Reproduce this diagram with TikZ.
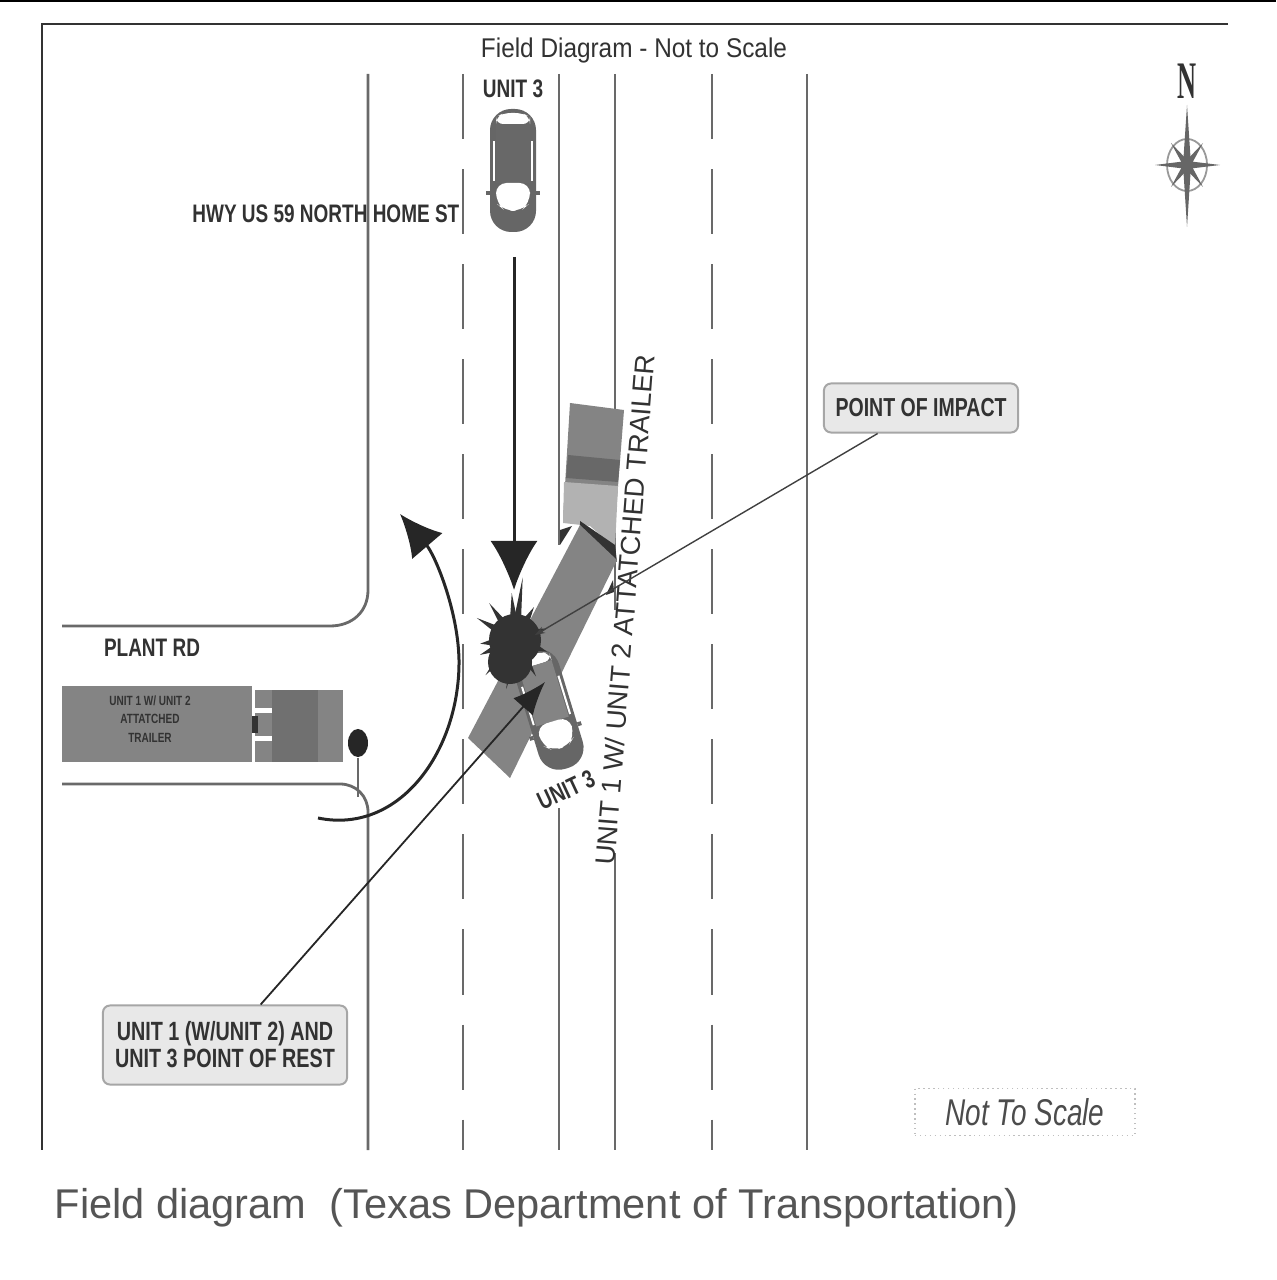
\documentclass[tikz,border=0pt]{standalone}
\usepackage{fontspec}
\setmainfont{Liberation Sans}
\newfontfamily\labelfont[FakeStretch=0.75]{Liberation Sans}
\newfontfamily\titlefont[FakeStretch=0.9]{Liberation Sans}
\newfontfamily\northfont[FakeStretch=0.5]{Liberation Serif}
\usepackage{tikz}
\usetikzlibrary{arrows.meta, positioning, calc, shapes}
\usepackage{xcolor}
\definecolor{roadline}{RGB}{105,105,105}
\definecolor{vehicle}{RGB}{132,132,132}
\definecolor{vehicledark}{RGB}{104,104,104}
\definecolor{labelfill}{RGB}{232,232,232}
\definecolor{inktext}{RGB}{50,50,50}
\definecolor{captiontext}{RGB}{85,85,85}
\colorlet{carroof}{vehicledark}
\tikzset{
  roadedge/.style={roadline, line width=0.028cm},
  lanedash/.style={roadline, line width=0.028cm, dash pattern=on 0.65cm off 0.30cm},
  roadlabel/.style={inktext, inner sep=0pt, font=\labelfont\fontsize{7.2}{9}\selectfont\bfseries},
  calloutbox/.style={draw=gray!70, fill=labelfill, text=inktext, rounded corners=2pt, line width=0.02cm, align=center, inner sep=0pt},
  carbody/.pic={
    \fill[black!60, rounded corners=6pt] (-23,-62) rectangle (23,61);
    \fill[white, rounded corners=2pt] (-17,-47) -- (-17,-54) -- (-9,-58) -- (9,-58) -- (17,-54) -- (17,-47) -- cycle;
    \fill[carroof] (-17,-47) rectangle (17,12);
    \fill[white, rounded corners=3pt] (-17,12) -- (17,12) -- (17,32) -- (8,40) -- (-8,40) -- (-17,32) -- cycle;
    \fill[white] (-20,-30) rectangle (-18,10);
    \fill[white] (18,-30) rectangle (20,10);
    \fill[black!60] (-27,20) rectangle (-23,24);
    \fill[black!60] (23,20) rectangle (27,24);
  }
}

\begin{document}
\begin{tikzpicture}[x=0.01cm, y=-0.01cm]
  \useasboundingbox (0,0) rectangle (1276,1280);

  % Frame
  \draw[black, line width=0.03cm] (0,1) -- (1276,1);
  \draw[black!80, line width=0.025cm] (1228,24) -- (42,24) -- (42,1150);

  % Road edges
  \draw[roadedge] (368,74) -- (368,590) .. controls (368,612) and (352,626) .. (330,626) -- (62,626);
  \draw[roadedge] (62,784) -- (340,784) .. controls (356,784) and (368,796) .. (368,812) -- (368,1150);
  \draw[roadedge] (559,74) -- (559,545);
  \draw[roadedge] (559,808) -- (559,1150);
  \draw[roadedge] (615,74) -- (615,610);
  \draw[roadedge] (615,853) -- (615,1150);
  \draw[roadedge] (807,74) -- (807,1150);

  % Lane dashes
  \draw[lanedash] (463,74) -- (463,1150);
  \draw[lanedash] (712,74) -- (712,1150);

  % Labels
  \node[inktext, inner sep=0pt, font=\titlefont\fontsize{7.7}{9}\selectfont] (title) at (634,51) {Field Diagram - Not to Scale};
  \node[roadlabel] (unittop) at (513,89) {UNIT 3};
  \node[roadlabel, anchor=east] (hwy) at (460,214) {HWY US 59 NORTH HOME ST};
  \node[roadlabel] (plant) at (152,648) {PLANT RD};
  \node[roadlabel, rotate=25] (unitrest) at (566,790) {UNIT 3};
  \node[inktext, inner sep=0pt, rotate=85.5, font=\fontsize{7.8}{9}\selectfont] (unitlong) at (625,610) {UNIT 1 W/ UNIT 2 ATTATCHED TRAILER};

  % Callouts
  \node[calloutbox, minimum width=1.94cm, minimum height=0.49cm, font=\labelfont\fontsize{7.4}{9}\selectfont\bfseries] (impact) at (921,408) {POINT OF IMPACT};
  \node[calloutbox, minimum width=2.44cm, minimum height=0.79cm, font=\labelfont\fontsize{7.5}{7.7}\selectfont\bfseries] (rest) at (225,1045) {UNIT 1 (W/UNIT 2) AND\\UNIT 3 POINT OF REST};
  \node[draw=gray!50, densely dotted, minimum width=2.2cm, minimum height=0.47cm, inner sep=0pt, text=black!70, font=\labelfont\fontsize{10.6}{12}\selectfont\itshape] (notscale) at (1025,1112) {Not To Scale};

  % Caption
  \node[captiontext, anchor=west, inner sep=0pt, font=\fontsize{11.82}{14}\selectfont] (caption) at (54,1208) {Field diagram\ \ (Texas Department of Transportation)};

  % Unit 1 on Plant Rd
  \node[fill=vehicle, minimum width=1.90cm, minimum height=0.76cm, inner sep=0pt] (trailer) at (157,724) {};
  \node[inktext, inner sep=0pt, align=center, font=\labelfont\fontsize{3.8}{5.2}\selectfont\bfseries] (trailertext) at (150,719) {UNIT 1 W/ UNIT 2\\ATTATCHED\\TRAILER};
  \fill[vehicle] (255,690) rectangle (343,762);
  \fill[vehicledark!70!vehicle] (272,690) rectangle (318,762);
  \fill[white] (255,708) rectangle (272,713);
  \fill[white] (255,736) rectangle (272,741);
  \fill[black!80] (252,716) rectangle (258,733);

  % Signal
  \node[ellipse, fill=black!85, minimum width=0.20cm, minimum height=0.28cm, inner sep=0pt] (signal) at (358,743) {};
  \coordinate (signalfoot) at (358,797);
  \draw[roadedge] (signal) -- (signalfoot);

  % Unit 1 at rest
  \fill[vehicle] (570,403) -- (624,410) -- (615,525) -- (563,518) -- cycle;
  \fill[vehicledark] (568,455) -- (620,460) -- (618,482) -- (566,478) -- cycle;
  \fill[gray!60] (564,482) -- (618,486) -- (615,548) -- (590,526) -- (563,523) -- cycle;
  \fill[black!80] (560,530) -- (572,526) -- (560,545) -- cycle;
  \fill[black!80] (580,521) -- (615,545) -- (617,562) -- (580,527) -- cycle;
  \fill[vehicle] (580,525) -- (617,560) -- (510,778) -- (468,738) -- cycle;
  \fill[black!80] (606,595) -- (613,580) -- (614,592) -- cycle;

  % Unit 3 cars
  \pic at (513,171) {carbody};
  \colorlet{carroof}{vehicle}
  \pic[rotate=17] at (549,710) {carbody};

  % Point of impact burst
  \coordinate (burst) at (515,640);
  \foreach \ang/\rad in {-83/63, -94/47, -150/44, 174/35, 157/38, -125/45, -60/38, -20/34, 20/34, 60/42, 100/50, 130/46} {
    \fill[black!80] ($(burst)+(\ang-9:22)$) -- ($(burst)+(\ang:\rad)$) -- ($(burst)+(\ang+9:22)$) -- cycle;
  }
  \fill[black!80] (burst) circle (0.26cm);
  \fill[black!80] (510,662) circle (0.22cm);

  % Motion arrows
  \coordinate (lanestart) at (514,257);
  \coordinate (lanetip) at (514,590);
  \draw[black!85, line width=0.03cm, -{Latex[length=0.49cm, width=0.47cm]}] (lanestart) -- (lanetip);
  \coordinate (swingstart) at (318,818);
  \coordinate (swingmid) at (459,660);
  \coordinate (swingtip) at (400,514);
  \draw[black!85, line width=0.03cm, -{Latex[length=0.42cm, width=0.40cm]}] (swingstart) .. controls (400,835) and (460,750) .. (swingmid) .. controls (458,610) and (435,555) .. (swingtip);

  % Callout leaders
  \coordinate (impactpt) at (535,635);
  \coordinate (restpt) at (545,682);
  \draw[black!75, line width=0.014cm, -{Stealth[length=0.10cm, width=0.07cm]}] (impact) -- (impactpt);
  \draw[black!85, line width=0.018cm, -{Latex[length=0.33cm, width=0.26cm]}] (rest) -- (restpt);

  % North mark
  \node[inktext, inner sep=0pt, font=\northfont\fontsize{15}{17}\selectfont\bfseries] (north) at (1187,81) {N};
  \coordinate (rose) at (1187,165);
  \draw[gray!80, line width=0.018cm] (rose) ellipse (0.20cm and 0.26cm);
  \fill[black!60] (1187,105) -- (1191,165) -- (1187,227) -- (1183,165) -- cycle;
  \fill[black!60] (1155,165) -- (1187,161) -- (1220,165) -- (1187,169) -- cycle;
  \fill[black!60] (1171,143) -- (1190,163) -- (1203,187) -- (1184,167) -- cycle;
  \fill[black!60] (1203,143) -- (1190,167) -- (1171,187) -- (1184,163) -- cycle;
\end{tikzpicture}
\end{document}
